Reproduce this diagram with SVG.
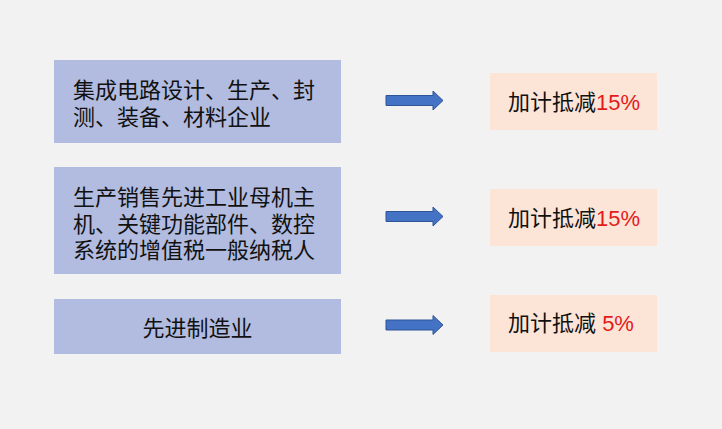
<svg xmlns="http://www.w3.org/2000/svg" width="722" height="429" viewBox="0 0 722 429">
<style>
.lbox{fill:#b2bce0}
.rbox{fill:#fce4d6}
.t{font-family:"Liberation Sans","Noto Sans CJK SC",sans-serif;font-size:22px;fill:#111}
.red{fill:#e31b1b}
.arr{fill:#4472c4;stroke:#2f5597;stroke-width:1}
</style>
<defs>
<path id="arrow" d="M386,-5 H433 V-9.5 L443,0 L433,9.5 V5 H386 Z"/>
</defs>
<rect width="722" height="429" fill="#f2f2f2"/>
<g id="node-left-1">
<rect class="lbox" x="54" y="60" width="287" height="83"/>
<text class="t" x="73" y="98">集成电路设计、生产、封</text>
<text class="t" x="73" y="125">测、装备、材料企业</text>
</g>
<g id="node-left-2">
<rect class="lbox" x="54" y="167" width="287" height="107"/>
<text class="t" x="73" y="205">生产销售先进工业母机主</text>
<text class="t" x="73" y="232">机、关键功能部件、数控</text>
<text class="t" x="73" y="258">系统的增值税一般纳税人</text>
</g>
<g id="node-left-3">
<rect class="lbox" x="54" y="299" width="287" height="55"/>
<text class="t" x="197.5" y="336" text-anchor="middle">先进制造业</text>
</g>
<g id="node-right-1">
<rect class="rbox" x="490" y="73" width="167" height="57"/>
<text class="t" x="508" y="110">加计抵减<tspan class="red">15%</tspan></text>
</g>
<g id="node-right-2">
<rect class="rbox" x="490" y="189" width="167" height="57"/>
<text class="t" x="508" y="226">加计抵减<tspan class="red">15%</tspan></text>
</g>
<g id="node-right-3">
<rect class="rbox" x="490" y="295" width="167" height="57"/>
<text class="t" x="508" y="331" xml:space="preserve">加计抵减 <tspan class="red">5%</tspan></text>
</g>
<g id="connectors">
<use href="#arrow" class="arr" transform="translate(0,100.5)"/>
<use href="#arrow" class="arr" transform="translate(0,216.5)"/>
<use href="#arrow" class="arr" transform="translate(0,325)"/>
</g>
</svg>
